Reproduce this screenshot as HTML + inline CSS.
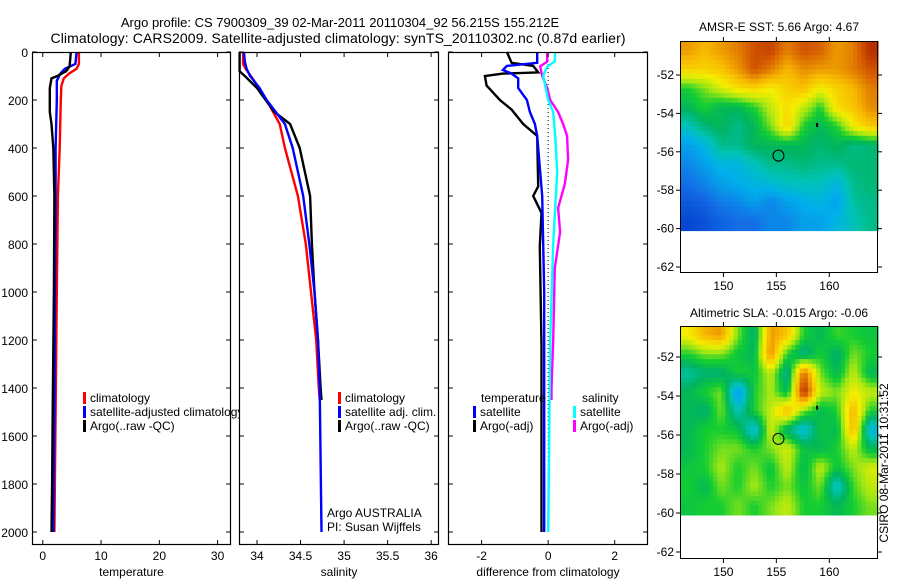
<!DOCTYPE html>
<html><head><meta charset="utf-8"><style>
body{margin:0;background:#fff}
svg{display:block;font-family:"Liberation Sans",sans-serif}
</style></head><body>
<svg id="fig" width="900" height="580" viewBox="0 0 900 580">
<text x="340" y="27" font-size="13" text-anchor="middle">Argo profile: CS 7900309_39 02-Mar-2011 20110304_92 56.215S 155.212E</text>
<text x="338" y="43" font-size="14" text-anchor="middle" textLength="575">Climatology: CARS2009. Satellite-adjusted climatology: synTS_20110302.nc (0.87d earlier)</text>
<g id="g"></g>
<text transform="translate(888,463) rotate(-90)" font-size="12" text-anchor="middle">CSIRO 08-Mar-2011 10:31:52</text>
</svg>
<script>
// ---- profile data ----
const tDepth = [0,50,70,90,110,140,200,400,600,1000,1500,2000];
const tClim  = [6.2,6.2,5.8,4.5,3.6,3.2,3.1,2.9,2.6,2.4,2.2,2.0];
const tSatD  = [0,50,70,90,120,200,400,600,1000,1500,2000];
const tSat   = [5.8,5.6,3.8,3.0,2.4,2.4,2.2,2.2,2.1,2.0,1.8];
const tArgoD = [0,60,80,100,110,150,250,300,400,600,1000,1500,1800,2000];
const tArgo  = [4.8,4.6,4.0,2.5,1.5,1.2,1.2,1.5,1.8,2.0,1.9,1.7,1.6,1.5];
const sClimD = [0,50,70,100,150,200,300,400,600,800,1000,1200,1400,1450];
const sClim  = [33.84,33.84,33.87,33.93,34.02,34.11,34.26,34.32,34.47,34.56,34.62,34.68,34.71,34.72];
const sSatD  = [0,40,70,100,150,200,300,400,600,800,1000,1200,1400,2000];
const sSat   = [33.85,33.86,33.88,33.92,34.03,34.11,34.32,34.41,34.53,34.6,34.66,34.7,34.72,34.74];
const sArgoD = [0,80,100,150,200,250,300,400,500,600,800,1000,1200,1400,1450];
const sArgo  = [33.8,33.8,33.86,34.0,34.1,34.2,34.38,34.49,34.55,34.61,34.63,34.66,34.7,34.73,34.74];
const dTArgoD = [0,45,58,85,90,100,140,200,240,300,350,560,600,670,810,1225,1700,2000];
const dTArgo  = [-1.24,-1.1,-0.45,-0.3,-1.36,-1.9,-1.85,-1.45,-1.1,-0.75,-0.33,-0.3,-0.45,-0.2,-0.25,-0.2,-0.2,-0.2];
const dTSatD = [0,45,58,75,90,110,150,200,250,300,350,600,1000,2000];
const dTSat  = [-0.33,-0.33,-1.24,-1.36,-1.1,-0.9,-0.9,-0.64,-0.55,-0.4,-0.33,-0.18,-0.12,-0.12];
const dSSatD = [0,40,60,100,200,250,350,500,800,1200,2000];
const dSSat  = [0.21,0.2,-0.03,-0.15,0,0.15,0.21,0.27,0.15,0.06,0];
const dSArgoD = [0,40,60,100,150,200,250,300,350,450,550,650,750,900,1200,1400,1450];
const dSArgo  = [-0.03,-0.03,-0.24,-0.18,-0.03,0.06,0.3,0.45,0.57,0.6,0.5,0.3,0.36,0.2,0.15,0.1,0.1];
// ---- map data (colour index 0=blue .. 1=dark red), rows from north (-50.5) to south (-60) ----
const sstGrid = [
[0.78,0.74,0.78,0.82,0.88,0.9,0.82,0.88,0.86,0.78,0.82,0.93],
[0.7,0.7,0.72,0.78,0.88,0.82,0.74,0.8,0.78,0.78,0.82,0.88],
[0.5,0.55,0.62,0.68,0.7,0.65,0.7,0.73,0.65,0.7,0.74,0.82],
[0.45,0.5,0.45,0.45,0.5,0.6,0.68,0.6,0.5,0.68,0.72,0.8],
[0.35,0.42,0.45,0.4,0.45,0.55,0.7,0.5,0.45,0.5,0.65,0.72],
[0.25,0.3,0.4,0.4,0.45,0.45,0.45,0.45,0.42,0.45,0.4,0.42],
[0.2,0.25,0.3,0.3,0.35,0.4,0.4,0.42,0.4,0.4,0.42,0.42],
[0.15,0.2,0.25,0.28,0.3,0.32,0.35,0.35,0.35,0.3,0.4,0.42],
[0.1,0.12,0.18,0.2,0.25,0.2,0.25,0.28,0.3,0.25,0.38,0.4],
[0.05,0.08,0.12,0.15,0.15,0.2,0.2,0.25,0.25,0.3,0.35,0.4]];
const slaGrid = [
[0.65,0.75,0.78,0.55,0.42,0.78,0.72,0.5,0.45,0.52,0.5,0.48],
[0.5,0.55,0.55,0.48,0.45,0.8,0.5,0.4,0.5,0.42,0.55,0.5],
[0.38,0.42,0.42,0.5,0.48,0.6,0.38,0.85,0.55,0.45,0.6,0.45],
[0.45,0.5,0.55,0.22,0.5,0.58,0.45,0.95,0.6,0.55,0.65,0.6],
[0.45,0.42,0.55,0.35,0.5,0.6,0.75,0.55,0.45,0.5,0.75,0.5],
[0.45,0.5,0.5,0.48,0.3,0.62,0.42,0.3,0.48,0.45,0.75,0.3],
[0.45,0.5,0.55,0.55,0.5,0.55,0.62,0.48,0.45,0.5,0.6,0.45],
[0.48,0.5,0.58,0.5,0.55,0.48,0.6,0.45,0.6,0.48,0.55,0.62],
[0.5,0.45,0.55,0.5,0.58,0.5,0.55,0.48,0.55,0.32,0.52,0.6],
[0.48,0.5,0.5,0.55,0.5,0.55,0.6,0.5,0.5,0.45,0.5,0.55]];
const depthTicks = [0,200,400,600,800,1000,1200,1400,1600,1800,2000];
const tTicks = [0,10,20,30];
const sTicks = [34,34.5,35,35.5,36];
const dTicks = [-2,0,2];
const latTicks = [-52,-54,-56,-58,-60,-62];
const lonTicks = [150,155,160];

const NS = "http://www.w3.org/2000/svg";
const G = document.getElementById('g');
function mk(tag, attrs, parent){const e=document.createElementNS(NS,tag);for(const k in attrs)e.setAttribute(k,attrs[k]);(parent||G).appendChild(e);return e;}
function txt(x,y,s,size,anchor,parent){const e=mk('text',{x:x,y:y,'font-size':size,'text-anchor':anchor||'start'},parent);e.textContent=s;return e;}

const Y0=52, Y1=545;
const yD = d => Y0 + d*0.24;
const panels = [
 {x0:32,x1:231,min:-1.85,max:32.3,ticks:tTicks,label:'temperature',name:'temperature-panel'},
 {x0:239,x1:439,min:33.793,max:36.09,ticks:sTicks,label:'salinity',name:'salinity-panel'},
 {x0:448,x1:648,min:-3.01,max:3.0,ticks:dTicks,label:'difference from climatology',name:'difference-panel'}];
panels.forEach(p=>{p.sx=v=>p.x0+(v-p.min)/(p.max-p.min)*(p.x1-p.x0);});

function drawPanel(p){
  const g=mk('g',{});
  
  
  mk('rect',{x:p.x0,y:Y0,width:p.x1-p.x0,height:Y1-Y0,fill:'#fff'},g);
  return g;
}
function frame(p,g,idx){
  mk('rect',{x:p.x0+0.5,y:Y0+0.5,width:p.x1-p.x0-1,height:Y1-Y0-1,fill:'none',stroke:'#000','stroke-width':1.2},g);
  depthTicks.forEach(d=>{const y=yD(d);
    mk('line',{x1:p.x0,x2:p.x0+5,y1:y,y2:y,stroke:'#000'},g);
    mk('line',{x1:p.x1-5,x2:p.x1,y1:y,y2:y,stroke:'#000'},g);
    if(idx===0){const t=txt(p.x0-4,y+5,String(d),12,'end',g);
      
      }
  });
  p.ticks.forEach(v=>{const x=p.sx(v);
    mk('line',{x1:x,x2:x,y1:Y1,y2:Y1-5,stroke:'#000'},g);
    mk('line',{x1:x,x2:x,y1:Y0,y2:Y0+5,stroke:'#000'},g);
    const t=txt(x,560,String(v),12,'middle',g);
    
    
  });
  const l=txt((p.x0+p.x1)/2,576,p.label,12,'middle',g);
  
  
}
function line(p,g,ds,vs,color,name){
  const pts=ds.map((d,i)=>p.sx(vs[i]).toFixed(1)+','+yD(d).toFixed(1)).join(' ');
  const e=mk('polyline',{points:pts,fill:'none',stroke:color,'stroke-width':2.4,'stroke-linejoin':'miter'},g);
  
  
}
function legend(g,x,y,color,label,name){
  mk('rect',{x:x,y:y-10,width:3,height:12,fill:color},g);
  const t=txt(x+7,y,label,12,'start',g);
  
  
}
let g1=drawPanel(panels[0]);
line(panels[0],g1,tDepth,tClim,'#f00','temp-climatology-line');
line(panels[0],g1,tSatD,tSat,'#00f','temp-satellite-line');
line(panels[0],g1,tArgoD,tArgo,'#000','temp-argo-line');
legend(g1,83,402,'#f00','climatology','legend-climatology');
legend(g1,83,416,'#00f','satellite-adjusted climatology','legend-satellite-adjusted');
legend(g1,83,430,'#000','Argo(..raw -QC)','legend-argo');
frame(panels[0],g1,0);
let g2=drawPanel(panels[1]);
line(panels[1],g2,sClimD,sClim,'#f00','sal-climatology-line');
line(panels[1],g2,sArgoD,sArgo,'#000','sal-argo-line');
line(panels[1],g2,sSatD,sSat,'#00f','sal-satellite-line');
legend(g2,338,402,'#f00','climatology','legend-climatology');
legend(g2,338,416,'#00f','satellite adj. clim.','legend-satellite-adj');
legend(g2,338,430,'#000','Argo(..raw -QC)','legend-argo');
const a1=txt(327,517,'Argo AUSTRALIA',12,'start',g2);


const a2=txt(327,531,'PI: Susan Wijffels',12,'start',g2);


frame(panels[1],g2,1);
let g3=drawPanel(panels[2]);
const zx=panels[2].sx(0);
mk('line',{x1:zx,x2:zx,y1:Y0,y2:yD(2000),stroke:'#000','stroke-dasharray':'1,3'},g3);
line(panels[2],g3,dTArgoD,dTArgo,'#000','diff-temp-argo-line');
line(panels[2],g3,dTSatD,dTSat,'#00f','diff-temp-satellite-line');
line(panels[2],g3,dSArgoD,dSArgo,'#f0f','diff-sal-argo-line');
line(panels[2],g3,dSSatD,dSSat,'#0ff','diff-sal-satellite-line');
const lt=txt(481,402,'temperature',12,'start',g3);


const ls=txt(582,402,'salinity',12,'start',g3);


legend(g3,473,416,'#00f','satellite','legend-temp-satellite');
legend(g3,473,430,'#000','Argo(-adj)','legend-temp-argo');
legend(g3,573,416,'#0ff','satellite','legend-sal-satellite');
legend(g3,573,430,'#f0f','Argo(-adj)','legend-sal-argo');
frame(panels[2],g3,2);

// ---- maps ----
const stops=[[0,[0,50,200]],[0.15,[20,110,230]],[0.28,[0,175,235]],[0.36,[0,195,180]],[0.44,[0,180,95]],[0.5,[20,205,50]],[0.57,[160,230,20]],[0.65,[245,238,0]],[0.74,[248,185,0]],[0.86,[215,95,0]],[1,[150,0,0]]];
function cmap(v){v=Math.max(0,Math.min(1,v));for(let i=1;i<stops.length;i++){if(v<=stops[i][0]){const a=stops[i-1],b=stops[i],t=(v-a[0])/(b[0]-a[0]);return 'rgb('+a[1].map((c,k)=>Math.round(c+(b[1][k]-c)*t)).join(',')+')';}}return 'rgb(150,0,0)';}
function sample(grid,fr,fc){
  const R=grid.length,C=grid[0].length;
  fr=Math.max(0,Math.min(R-1,fr));fc=Math.max(0,Math.min(C-1,fc));
  const r0=Math.floor(fr),c0=Math.floor(fc),r1=Math.min(R-1,r0+1),c1=Math.min(C-1,c0+1),tr=fr-r0,tc=fc-c0;
  return grid[r0][c0]*(1-tr)*(1-tc)+grid[r0][c1]*(1-tr)*tc+grid[r1][c0]*tr*(1-tc)+grid[r1][c1]*tr*tc;
}
function drawMap(cfg){
  const g=mk('g',{});
  
  
  const lon0=145.9,lon1=164.6;
  const sx=lon=>cfg.x0+(lon-lon0)/(lon1-lon0)*(cfg.x1-cfg.x0);
  const sy=lat=>cfg.yRef+(-52-lat)*cfg.ppd;
  const latTop=-52+(cfg.yRef-cfg.y0)/cfg.ppd, latBot=-60.1;
  const R=cfg.grid.length, C=cfg.grid[0].length, sub=4;
  const dLat=(latTop-latBot)/(R*sub), dLon=(lon1-lon0)/(C*sub);
  for(let r=0;r<R*sub;r++)for(let c=0;c<C*sub;c++){
    const v=sample(cfg.grid,(r+0.5)/sub-0.5,(c+0.5)/sub-0.5);
    const x=sx(lon0+c*dLon), y=sy(latTop-r*dLat);
    mk('rect',{x:x.toFixed(1),y:y.toFixed(1),width:(sx(lon0+(c+1)*dLon)-x+0.6).toFixed(1),height:(sy(latTop-(r+1)*dLat)-y+0.6).toFixed(1),fill:cmap(v)},g);
  }
  mk('rect',{x:cfg.x0+0.5,y:cfg.y0+0.5,width:cfg.x1-cfg.x0-1,height:cfg.y1-cfg.y0-1,fill:'none',stroke:'#000'},g);
  latTicks.forEach(l=>{const y=sy(l);
    mk('line',{x1:cfg.x0-4,x2:cfg.x0,y1:y,y2:y,stroke:'#000'},g);
    mk('line',{x1:cfg.x1,x2:cfg.x1+4,y1:y,y2:y,stroke:'#000'},g);
    const t=txt(cfg.x0-6,y+4,String(l),12,'end',g);
    
    });
  lonTicks.forEach(l=>{const x=sx(l);
    mk('line',{x1:x,x2:x,y1:cfg.y1,y2:cfg.y1+4,stroke:'#000'},g);
    mk('line',{x1:x,x2:x,y1:cfg.y0-4,y2:cfg.y0,stroke:'#000'},g);
    const t=txt(x,cfg.y1+17,String(l),12,'middle',g);
    
    });
  const ci=mk('circle',{cx:sx(155.2),cy:sy(-56.2),r:5.5,fill:'none',stroke:'#000'},g);
  
  
  mk('rect',{x:sx(158.75),y:sy(-54.5),width:2,height:4,fill:'#000'},g);
  const t=txt((cfg.x0+cfg.x1)/2,cfg.titleY,cfg.title,12,'middle',g);
  
  
}
drawMap({name:'sst-map',grid:sstGrid,x0:680,x1:878,y0:41,y1:273,yRef:75,ppd:19.2,titleY:31,title:'AMSR-E SST: 5.66  Argo: 4.67'});
drawMap({name:'sla-map',grid:slaGrid,x0:680,x1:878,y0:326,y1:559,yRef:357,ppd:19.5,titleY:317,title:'Altimetric SLA: -0.015  Argo: -0.06'});
</script>
</body></html>
